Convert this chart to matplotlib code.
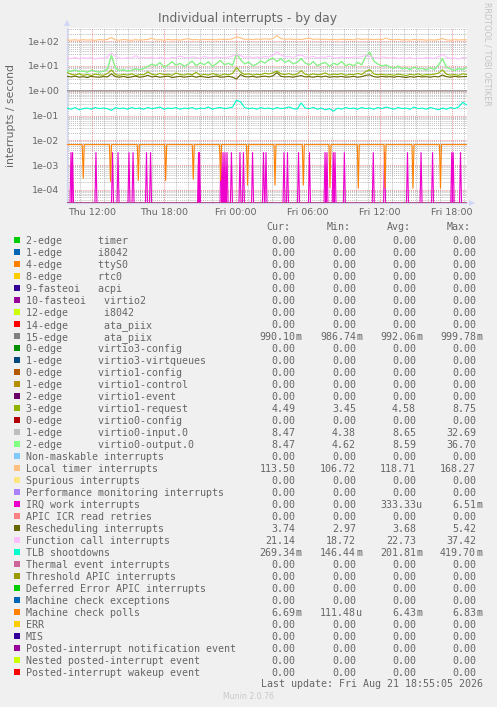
import numpy as np
import matplotlib
matplotlib.use("Agg")
import matplotlib.pyplot as plt
from matplotlib.ticker import FixedLocator, MultipleLocator, LogLocator, NullFormatter, FixedFormatter
from matplotlib.patches import Polygon, Rectangle

# ---------------------------------------------------------------- data
title = "Individual interrupts - by day"
y_label = "interrupts / second"
x_tick_hours = [12, 18, 24, 30, 36, 42]          # hours since Thu 00:00
x_tick_labels = ["Thu 12:00", "Thu 18:00", "Fri 00:00", "Fri 06:00", "Fri 12:00", "Fri 18:00"]
y_tick_values = [1e2, 1e1, 1e0, 1e-1, 1e-2, 1e-3, 1e-4]
y_tick_labels = ["1e+02", "1e+01", "1e+00", "1e-01", "1e-02", "1e-03", "1e-04"]
last_update = "Last update: Fri Aug 21 18:55:05 2026"
watermark = "RRDTOOL / TOBI OETIKER"
footer = "Munin 2.0.76"

series_labels = [
    "2-edge      timer", "1-edge      i8042", "4-edge      ttyS0", "8-edge      rtc0",
    "9-fasteoi   acpi", "10-fasteoi   virtio2", "12-edge      i8042",
    "14-edge      ata_piix", "15-edge      ata_piix", "0-edge      virtio3-config",
    "1-edge      virtio3-virtqueues", "0-edge      virtio1-config",
    "1-edge      virtio1-control", "2-edge      virtio1-event",
    "3-edge      virtio1-request", "0-edge      virtio0-config",
    "1-edge      virtio0-input.0", "2-edge      virtio0-output.0",
    "Non-maskable interrupts", "Local timer interrupts", "Spurious interrupts",
    "Performance monitoring interrupts", "IRQ work interrupts", "APIC ICR read retries",
    "Rescheduling interrupts", "Function call interrupts", "TLB shootdowns",
    "Thermal event interrupts", "Threshold APIC interrupts",
    "Deferred Error APIC interrupts", "Machine check exceptions", "Machine check polls",
    "ERR", "MIS", "Posted-interrupt notification event", "Nested posted-interrupt event",
    "Posted-interrupt wakeup event",
]
series_colors = [
    "#00CC00", "#0066B3", "#FF8000", "#FFCC00", "#330099", "#990099", "#CCFF00", "#FF0000",
    "#808080", "#008F00", "#00487D", "#B35A00", "#B38F00", "#6B006B", "#8FB300", "#B30000",
    "#BEBEBE", "#80FF80", "#80C9FF", "#FFC080", "#FFE680", "#AA80FF", "#EE00CC", "#FF8080",
    "#666600", "#FFBFFF", "#00FFCC", "#CC6699", "#999900", "#00CC00", "#0066B3", "#FF8000",
    "#FFCC00", "#330099", "#990099", "#CCFF00", "#FF0000",
]
stat_cur = ["0.00"] * 8 + ["990.10m"] + ["0.00"] * 5 + ["4.49", "0.00", "8.47", "8.47",
            "0.00", "113.50", "0.00", "0.00", "0.00", "0.00", "3.74", "21.14", "269.34m",
            "0.00", "0.00", "0.00", "0.00", "6.69m", "0.00", "0.00", "0.00", "0.00", "0.00"]
stat_min = ["0.00"] * 8 + ["986.74m"] + ["0.00"] * 5 + ["3.45", "0.00", "4.38", "4.62",
            "0.00", "106.72", "0.00", "0.00", "0.00", "0.00", "2.97", "18.72", "146.44m",
            "0.00", "0.00", "0.00", "0.00", "111.48u", "0.00", "0.00", "0.00", "0.00", "0.00"]
stat_avg = ["0.00"] * 8 + ["992.06m"] + ["0.00"] * 5 + ["4.58", "0.00", "8.65", "8.59",
            "0.00", "118.71", "0.00", "0.00", "333.33u", "0.00", "3.68", "22.73", "201.81m",
            "0.00", "0.00", "0.00", "0.00", "6.43m", "0.00", "0.00", "0.00", "0.00", "0.00"]
stat_max = ["0.00"] * 8 + ["999.78m"] + ["0.00"] * 5 + ["8.75", "0.00", "32.69", "36.70",
            "0.00", "168.27", "0.00", "0.00", "6.51m", "0.00", "5.42", "37.42", "419.70m",
            "0.00", "0.00", "0.00", "0.00", "6.83m", "0.00", "0.00", "0.00", "0.00", "0.00"]

# sampled series (hours since Thu 00:00)
sample_start = 9.92
sample_step = 0.3364

local_timer = [
    112, 110, 114, 109, 115, 111, 113, 108, 116, 112,
    118, 140, 113, 110, 117, 112, 109, 115, 111, 114,
    117, 130, 112, 115, 110, 118, 113, 116, 111, 119,
    125, 114, 117, 112, 120, 115, 118, 113, 121, 116,
    119, 124, 150, 135, 118, 121, 116, 122, 117, 125,
    120, 126, 168, 128, 119, 123, 118, 121, 116, 124,
    132, 118, 122, 117, 121, 115, 119, 114, 120, 116,
    118, 113, 126, 117, 121, 119, 116, 120, 115, 132,
    117, 114, 119, 112, 116, 111, 118, 113, 115, 110,
    114, 111, 116, 128, 113, 110, 115, 112, 114, 113.5]
function_call = [
    21, 20, 22, 19.5, 21.5, 20.5, 22, 19, 21, 20.5,
    23, 33, 24, 21, 20, 22, 21, 26, 20.5, 22,
    21, 23, 20, 22.5, 21, 20, 22, 21.5, 25, 22,
    21, 23, 22, 20.5, 24, 22, 21, 23, 22, 21.5,
    23, 25, 30, 26, 22, 24, 21.5, 23, 22, 24,
    23, 27, 37, 28, 23, 24, 22, 26, 28, 23,
    22, 24, 21.5, 23, 22, 25, 22, 21, 23, 22,
    21.5, 23, 22, 24, 26, 24, 22, 21, 23, 22,
    21, 22.5, 20, 21.5, 20, 22, 19.5, 21, 20, 22,
    21, 20.5, 23, 30, 22, 20.5, 21, 19, 22, 21.14]
virtio0_input = [
    6.3, 6.2, 6.8, 6.0, 6.1, 5.7, 6.6, 6.2, 5.8, 6.0,
    7.2, 24, 8.2, 6.7, 6.8, 6.4, 6.6, 7.7, 7.1, 7.8,
    9.8, 11.5, 10.3, 13.5, 9.3, 10.8, 14.5, 10.8, 12.6, 9.8,
    11.7, 15.4, 10.4, 13.1, 11.3, 14.6, 9.8, 12.2, 16.4, 11.3,
    12.6, 10.8, 30, 17.5, 12.3, 14.1, 10.3, 11.8, 15.6, 13.2,
    17.4, 20.3, 15.3, 19.5, 14.2, 16.6, 12.3, 13.8, 19.4, 13.3,
    11.3, 14.6, 10.3, 12.2, 13.7, 9.8, 12.7, 11.3, 15.1, 10.3,
    11.8, 10.2, 13.6, 11.2, 23, 32.69, 15.6, 11.8, 10.2, 10.8,
    9.2, 8.2, 9.8, 7.7, 8.3, 7.2, 8.8, 7.7, 7.9, 7.0,
    8.3, 7.4, 10.6, 18.5, 8.8, 7.7, 6.7, 7.8, 7.2, 8.47]
virtio0_output = [
    6.5, 6.0, 7.0, 5.8, 6.3, 5.5, 6.8, 6.0, 5.6, 6.2,
    7.5, 28, 8.0, 6.5, 7.0, 6.2, 6.8, 7.5, 6.9, 8.0,
    9.5, 12, 10, 14, 9, 11, 15, 10.5, 13, 9.5,
    12, 16, 10, 13.5, 11, 15, 9.5, 12.5, 17, 11,
    13, 10.5, 33, 18, 12, 14.5, 10, 12, 16, 13,
    18, 21, 15, 20, 14, 17, 12, 14, 20, 13,
    11, 15, 10, 12.5, 14, 9.5, 13, 11, 15.5, 10,
    12, 10, 14, 11, 25, 36.7, 16, 12, 10, 11,
    9, 8, 10, 7.5, 8.5, 7, 9, 7.5, 8, 6.8,
    8.5, 7.2, 11, 20, 9, 7.5, 6.5, 8, 7, 8.47]
virtio1_request = [
    5.5, 4.6, 4.3, 4.8, 4.2, 4.5, 4.1, 4.7, 4.4, 4.2,
    4.9, 7.0, 4.5, 4.2, 4.6, 4.3, 4.8, 4.1, 4.5, 4.4,
    5.8, 4.6, 4.3, 5.0, 4.4, 4.7, 4.2, 5.2, 4.5, 4.3,
    4.8, 4.4, 5.5, 4.2, 4.6, 4.3, 4.9, 4.5, 4.2, 4.7,
    4.4, 5.0, 8.75, 5.6, 4.5, 4.8, 4.3, 4.6, 4.4, 5.1,
    4.7, 5.3, 6.2, 4.8, 4.5, 4.9, 4.3, 4.7, 6.5, 4.6,
    4.3, 4.8, 4.4, 4.6, 5.2, 4.3, 4.7, 4.5, 4.9, 4.2,
    4.6, 4.4, 5.0, 4.5, 6.0, 7.0, 4.8, 4.4, 4.6, 4.3,
    4.5, 4.2, 4.7, 4.4, 4.1, 4.6, 4.3, 4.8, 4.2, 4.5,
    4.4, 4.7, 5.1, 7.0, 4.6, 4.3, 4.5, 4.2, 4.8, 4.49]
rescheduling = [
    3.8, 3.6, 3.9, 3.5, 3.7, 3.4, 3.8, 3.6, 3.5, 3.7,
    3.6, 4.8, 3.7, 3.5, 3.8, 3.4, 3.6, 3.9, 3.5, 3.7,
    4.2, 3.6, 3.8, 3.5, 3.7, 3.9, 3.4, 3.6, 3.8, 3.5,
    3.7, 3.9, 3.5, 3.8, 3.6, 3.4, 3.7, 3.9, 3.5, 3.6,
    3.8, 3.5, 2.97, 4.5, 3.7, 3.6, 3.8, 3.5, 3.7, 3.9,
    3.6, 4.0, 5.42, 3.8, 3.6, 3.7, 3.5, 3.8, 4.1, 3.6,
    3.7, 3.5, 3.8, 3.6, 3.9, 3.5, 3.7, 3.6, 3.8, 3.5,
    3.6, 3.8, 3.5, 3.7, 4.2, 4.4, 3.7, 3.5, 3.8, 3.6,
    3.7, 3.5, 3.8, 3.6, 3.4, 3.7, 3.5, 3.8, 3.6, 3.7,
    3.5, 3.8, 3.6, 4.3, 3.7, 3.5, 3.8, 3.6, 3.7, 3.74]
ata_piix_15 = [
    0.992, 0.990, 0.995, 0.988, 0.993, 0.991, 0.996, 0.989, 0.994, 0.992,
    0.990, 0.997, 0.991, 0.993, 0.988, 0.995, 0.992, 0.990, 0.994, 0.991,
    0.993, 0.989, 0.996, 0.992, 0.990, 0.994, 0.991, 0.993, 0.988, 0.995,
    0.992, 0.990, 0.999, 0.991, 0.993, 0.989, 0.994, 0.992, 0.990, 0.995,
    0.991, 0.993, 0.997, 0.992, 0.990, 0.994, 0.988, 0.993, 0.991, 0.995,
    0.992, 0.990, 0.996, 0.991, 0.993, 0.989, 0.994, 0.992, 0.990, 0.995,
    0.991, 0.993, 0.988, 0.992, 0.990, 0.994, 0.991, 0.993, 0.989, 0.995,
    0.992, 0.990, 0.994, 0.991, 0.993, 0.987, 0.995, 0.992, 0.990, 0.994,
    0.991, 0.993, 0.989, 0.992, 0.990, 0.995, 0.991, 0.993, 0.988, 0.994,
    0.992, 0.990, 0.995, 0.991, 0.993, 0.989, 0.994, 0.992, 0.990, 0.990]
tlb_shootdowns = [
    0.20, 0.18, 0.21, 0.17, 0.19, 0.20, 0.18, 0.21, 0.19, 0.20,
    0.19, 0.16, 0.21, 0.19, 0.20, 0.18, 0.21, 0.19, 0.20, 0.18,
    0.21, 0.19, 0.20, 0.22, 0.18, 0.20, 0.19, 0.21, 0.18, 0.20,
    0.19, 0.21, 0.18, 0.20, 0.19, 0.22, 0.18, 0.20, 0.21, 0.19,
    0.20, 0.22, 0.42, 0.35, 0.21, 0.19, 0.20, 0.18, 0.21, 0.19,
    0.20, 0.18, 0.21, 0.19, 0.20, 0.22, 0.19, 0.18, 0.32, 0.20,
    0.19, 0.21, 0.18, 0.20, 0.17, 0.19, 0.15, 0.20, 0.18, 0.21,
    0.19, 0.20, 0.18, 0.21, 0.19, 0.20, 0.18, 0.21, 0.19, 0.22,
    0.20, 0.18, 0.21, 0.19, 0.20, 0.18, 0.22, 0.19, 0.20, 0.18,
    0.21, 0.19, 0.17, 0.20, 0.18, 0.21, 0.19, 0.22, 0.34, 0.27]

# Machine check polls: steady level with short dips (hours, value)
mcp_level = 6.7e-3
mcp_dip_hours = [11.27, 13.54, 15.86, 18.14, 20.44, 22.71, 24.96, 27.25,
                 29.61, 31.83, 34.19, 36.42, 38.75, 41.04]
mcp_dip_values = [2.9e-4, 2.1e-4, 2.3e-4, 2.3e-4, 2.6e-4, 2.3e-4, 1.5e-4, 1.5e-4,
                  1.5e-4, 1.15e-4, 1.12e-4, 1.12e-4, 1.12e-4, 1.12e-4]
# IRQ work interrupts: zero with short bursts (hours)
irq_work_peak = 3.3e-3
irq_work_hours = [10.25, 10.38, 12.33, 13.71, 14.17, 15.08, 15.42, 16.54, 16.88,
                  20.88, 20.96, 22.75, 22.92, 23.08, 23.25, 23.62, 24.33, 24.62,
                  25.38, 26.29, 26.50, 28.00, 28.29, 29.21, 30.12, 31.42, 31.58,
                  32.10, 32.25, 33.03, 35.44, 36.38, 38.29, 39.42, 40.38, 41.98,
                  42.10, 42.71]
burst_half_width = 1 / 12  # one 5-minute step

sampled = {
    "15-edge      ata_piix": ata_piix_15,
    "3-edge      virtio1-request": virtio1_request,
    "1-edge      virtio0-input.0": virtio0_input,
    "2-edge      virtio0-output.0": virtio0_output,
    "Local timer interrupts": local_timer,
    "Rescheduling interrupts": rescheduling,
    "Function call interrupts": function_call,
    "TLB shootdowns": tlb_shootdowns,
}

# ---------------------------------------------------------------- figure
W, H = 497, 707
FONT = "#666666"
fig = plt.figure(figsize=(W / 100, H / 100), dpi=100, facecolor="#F0F0F0")

def fx(x):
    return x / W

def fy(y):
    return 1 - y / H

L, R, T, B = 67, 467, 28, 203
ax = fig.add_axes([fx(L), fy(B), (R - L) / W, (B - T) / H])
ax.set_facecolor("#FFFFFF")
ymin, ymax = 2.95e-5, 340
tmin, tmax = 9.917, 43.25
ax.set_yscale("log")
ax.set_ylim(ymin, ymax)
ax.set_xlim(tmin, tmax)

t = sample_start + sample_step * np.arange(len(local_timer))

def burst_series(hours, values, level):
    xs, ys = [sample_start], [level]
    for h, v in zip(hours, values):
        xs += [h - burst_half_width, h, h + burst_half_width]
        ys += [level, v, level]
    xs.append(t[-1])
    ys.append(level)
    return np.array(xs), np.array(ys)

for name, color in zip(series_labels, series_colors):
    if name in sampled:
        xs, ys = t, np.array(sampled[name], dtype=float)
    elif name == "Machine check polls":
        xs, ys = burst_series(mcp_dip_hours, mcp_dip_values, mcp_level)
    elif name == "IRQ work interrupts":
        xs, ys = burst_series(irq_work_hours, [irq_work_peak] * len(irq_work_hours), 0.0)
    else:
        xs, ys = np.array([t[0], t[-1]]), np.array([0.0, 0.0])
    ys = np.where(ys > 0, ys, ymin)
    ax.plot(xs, ys, color=color, lw=0.8, zorder=3, solid_joinstyle="miter")

# grid
ax.yaxis.set_major_locator(FixedLocator(y_tick_values))
ax.yaxis.set_major_formatter(FixedFormatter(y_tick_labels))
ax.yaxis.set_minor_locator(LogLocator(base=10, subs=np.arange(2, 10), numticks=30))
ax.yaxis.set_minor_formatter(NullFormatter())
ax.xaxis.set_major_locator(FixedLocator(x_tick_hours))
ax.xaxis.set_major_formatter(FixedFormatter(x_tick_labels))
ax.xaxis.set_minor_locator(MultipleLocator(1))
ax.grid(which="minor", color=(0.6, 0.6, 0.6, 0.38), lw=0.55, ls=(0, (1, 1.5)))
ax.grid(which="major", color=(0.92, 0.35, 0.35, 0.45), lw=0.55, ls=(0, (1, 1.5)))
ax.set_axisbelow(True)

ax.tick_params(which="both", length=0, colors=FONT, labelsize=6.8)
ax.tick_params(axis="y", pad=5.5)
ax.tick_params(axis="x", pad=3.8)
for s in ("top", "right"):
    ax.spines[s].set_visible(False)
for s in ("left", "bottom"):
    ax.spines[s].set_color("#CFD6F8")
    ax.spines[s].set_linewidth(0.8)

# axis arrows
AX = "#CFD6F8"
fig.add_artist(Polygon([(fx(67), fy(20)), (fx(64), fy(26)), (fx(70), fy(26))],
                       closed=True, transform=fig.transFigure, color=AX, lw=0))
fig.add_artist(Polygon([(fx(475), fy(203)), (fx(469), fy(200)), (fx(469), fy(206))],
                       closed=True, transform=fig.transFigure, color=AX, lw=0))

# titles
fig.text(fx(248), fy(22.3), title, ha="center", va="baseline", fontsize=8.9,
         color=FONT, family="DejaVu Sans")
fig.text(fx(11), fy(115.5), y_label, ha="center", va="center", rotation=90,
         fontsize=7.8, color=FONT, family="DejaVu Sans")
fig.text(fx(487), fy(53.5), watermark, ha="center", va="center", rotation=270,
         fontsize=5.9, color="#C4C4C4", family="DejaVu Sans")

# legend table
MONO = dict(family="DejaVu Sans Mono", fontsize=7.2, color=FONT)
headers = ["Cur:", "Min:", "Avg:", "Max:"]
header_left = [266.7, 326.5, 386.7, 446.7]
num_right = [295.7, 356.0, 416.0, 476.0]
for hx, htxt in zip(header_left, headers):
    fig.text(fx(hx), fy(230.3), htxt, ha="left", va="baseline", **MONO)

for i, (name, color) in enumerate(zip(series_labels, series_colors)):
    yc = 240 + 12 * i
    fig.add_artist(Rectangle((fx(14), fy(yc + 3)), 6 / W, 6 / H,
                             transform=fig.transFigure, color=color, lw=0))
    fig.text(fx(26), fy(yc + 3.6), name, ha="left", va="baseline", **MONO)
    for col, stats in enumerate((stat_cur, stat_min, stat_avg, stat_max)):
        s = stats[i]
        if s[-1] in "mu":
            num, suf = s[:-1], s[-1]
        else:
            num, suf = s, ""
        fig.text(fx(num_right[col]), fy(yc + 3.6), num, ha="right", va="baseline", **MONO)
        if suf:
            fig.text(fx(num_right[col] + 0.3), fy(yc + 3.6), suf, ha="left", va="baseline", **MONO)

fig.text(fx(482.7), fy(687.0), last_update, ha="right", va="baseline", **MONO)
fig.text(fx(248), fy(699.0), footer, ha="center", va="baseline", fontsize=5.6,
         color="#C8C8C8", family="DejaVu Sans")

fig.savefig("out.png", dpi=100, facecolor=fig.get_facecolor())
